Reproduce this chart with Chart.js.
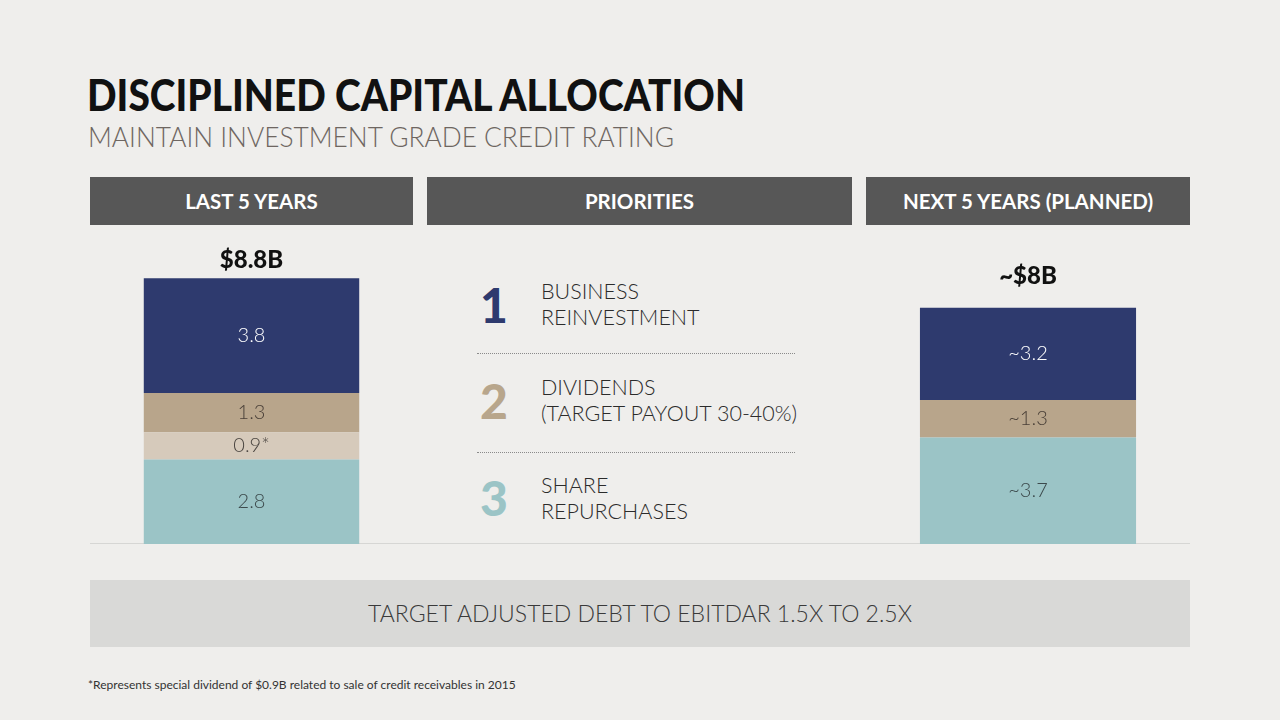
<!DOCTYPE html>
<html>
<head>
<meta charset="utf-8">
<script src="https://cdn.jsdelivr.net/npm/chart.js@4.4.1/dist/chart.umd.min.js"></script>
<style>
  body { margin:0; width:1280px; height:720px; background:#efeeec; font-family:Lato, sans-serif; position:relative; overflow:hidden; }
  .abs { position:absolute; }
  #title { left:87px; top:69px; font-size:43px; font-weight:900; color:#111; white-space:nowrap; transform-origin:0 0; }
  #subtitle { left:88px; top:119px; font-size:28px; font-weight:300; color:#6e6661; white-space:nowrap; transform-origin:0 0; }
  .hdr { top:177px; height:48px; background:#575757; color:#fff; font-weight:700; font-size:20.5px; line-height:48px; text-align:center; }
  .num { font-size:48px; font-weight:900; width:40px; text-align:center; left:474px; }
  .ptxt { left:541px; font-size:21.5px; font-weight:300; color:#2b2b2b; line-height:26px; white-space:nowrap; }
  .dots { left:477px; width:318px; border-top:1px dotted #8a8a8a; height:0; }
  #baseline { left:90px; top:543px; width:1100px; height:1px; background:#d6d6d4; }
  #target { left:90px; top:580px; width:1100px; height:67px; background:#d9d9d7; text-align:center; line-height:67px; font-size:23px; font-weight:300; color:#3a3a3a; }
  #foot { left:88px; top:677px; font-size:12px; color:#333; font-weight:400; }
</style>
</head>
<body>
<div id="title" class="abs">DISCIPLINED CAPITAL ALLOCATION</div>
<div id="subtitle" class="abs">MAINTAIN INVESTMENT GRADE CREDIT RATING</div>

<div class="abs hdr" style="left:90px;width:323px;">LAST 5 YEARS</div>
<div class="abs hdr" style="left:427px;width:425px;">PRIORITIES</div>
<div class="abs hdr" style="left:866px;width:324px;">NEXT 5 YEARS (PLANNED)</div>

<div id="baseline" class="abs"></div>

<div class="abs num" style="top:276px;color:#2e3a6e;">1</div>
<div class="abs ptxt" style="top:278px;">BUSINESS<br>REINVESTMENT</div>
<div class="abs dots" style="top:353px;"></div>
<div class="abs num" style="top:372px;color:#b8a68c;">2</div>
<div class="abs ptxt" style="top:374px;">DIVIDENDS<br>(TARGET PAYOUT 30-40%)</div>
<div class="abs dots" style="top:452px;"></div>
<div class="abs num" style="top:469px;color:#9bc4c6;">3</div>
<div class="abs ptxt" style="top:472px;">SHARE<br>REPURCHASES</div>

<div class="abs" style="left:90px;top:240px;width:323px;height:304px;"><canvas id="lastChart"></canvas></div>
<div class="abs" style="left:866px;top:240px;width:324px;height:304px;"><canvas id="nextChart"></canvas></div>

<div id="target" class="abs">TARGET ADJUSTED DEBT TO EBITDAR 1.5X TO 2.5X</div>
<div id="foot" class="abs">*Represents special dividend of $0.9B related to sale of credit receivables in 2015</div>

<script>
// squeeze heading text to the width it has on the slide
function fitWidth(id, w) {
  var el = document.getElementById(id);
  var cur = el.getBoundingClientRect().width;
  el.style.transform = 'scaleX(' + (w / cur) + ')';
}
fitWidth('title', 658);
fitWidth('subtitle', 586);

// data
var segNames = ['Share repurchases', 'Special dividend', 'Dividends', 'Business reinvestment'];
var segColors = ['#9bc4c6', '#d6cabb', '#b8a58b', '#2e3a6e'];
var segTextColors = ['#3c4a4c', '#4a4540', '#4a4038', '#ffffff'];

var lastValues = [2.8, 0.9, 1.3, 3.8];
var lastLabels = ['2.8', '0.9*', '1.3', '3.8'];
var lastTotal = '$8.8B';

var nextValues = [3.7, 0, 1.3, 3.2];
var nextLabels = ['~3.7', '', '~1.3', '~3.2'];
var nextTotal = '~$8B';

// labels inside each segment plus total above the stack
var segLabelPlugin = {
  id: 'segLabels',
  afterDatasetsDraw: function(chart, args, opts) {
    var ctx = chart.ctx;
    ctx.save();
    ctx.textAlign = 'center';
    ctx.textBaseline = 'middle';
    var topY = null, cx = 0;
    chart.data.datasets.forEach(function(ds, i) {
      var bar = chart.getDatasetMeta(i).data[0];
      if (!ds.data[0]) return;
      var top = bar.y, bottom = bar.base;
      cx = bar.x;
      if (topY === null || top < topY) topY = top;
      ctx.font = '300 20px Lato';
      ctx.fillStyle = segTextColors[i];
      ctx.fillText(opts.labels[i], bar.x, (top + bottom) / 2);
    });
    ctx.font = '900 24px Lato';
    ctx.fillStyle = '#111';
    ctx.fillText(opts.total, cx, topY - opts.totalGap);
    ctx.restore();
  }
};

function makeChart(id, values, labels, total, yMax, totalGap) {
  var datasets = [];
  for (var i = 0; i < values.length; i++) {
    datasets.push({
      label: segNames[i],
      data: [values[i]],
      backgroundColor: segColors[i],
      borderWidth: 0,
      categoryPercentage: 1,
      barPercentage: 0.667
    });
  }
  return new Chart(document.getElementById(id).getContext('2d'), {
    type: 'bar',
    data: { labels: [''], datasets: datasets },
    options: {
      responsive: true,
      maintainAspectRatio: false,
      animation: false,
      layout: { padding: 0 },
      scales: {
        x: { stacked: true, display: false },
        y: { stacked: true, display: false, min: 0, max: yMax }
      },
      plugins: {
        legend: { display: false },
        tooltip: { enabled: false },
        segLabels: { labels: labels, total: total, totalGap: totalGap }
      }
    },
    plugins: [segLabelPlugin]
  });
}

makeChart('lastChart', lastValues, lastLabels, lastTotal, 10.07, 18);
makeChart('nextChart', nextValues, nextLabels, nextTotal, 10.55, 31);
</script>
</body>
</html>
